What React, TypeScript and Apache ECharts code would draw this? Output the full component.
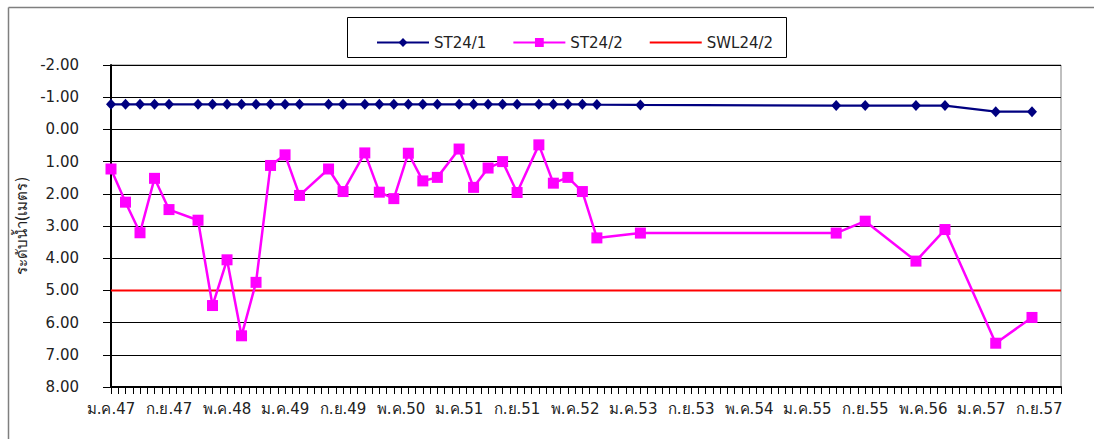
import React, { useEffect, useRef } from "react";
import * as echarts from "echarts";

const thaiMonths = ["ม.ค.", "ก.พ.", "มี.ค.", "เม.ย.", "พ.ค.", "มิ.ย.", "ก.ค.", "ส.ค.", "ก.ย.", "ต.ค.", "พ.ย.", "ธ.ค."];
const firstYear = 2004;
const lastYear = 2014;

const sampleDates = [
  "2004-01", "2004-03", "2004-05", "2004-07", "2004-09", "2005-01", "2005-03", "2005-05",
  "2005-07", "2005-09", "2005-11", "2006-01", "2006-03", "2006-07", "2006-09", "2006-12",
  "2007-02", "2007-04", "2007-06", "2007-08", "2007-10", "2008-01", "2008-03", "2008-05",
  "2008-07", "2008-09", "2008-12", "2009-02", "2009-04", "2009-06", "2009-08", "2010-02",
  "2012-05", "2012-09", "2013-04", "2013-08", "2014-03", "2014-08",
];

const st241 = [
  -0.78, -0.78, -0.78, -0.78, -0.78, -0.78, -0.78, -0.78,
  -0.78, -0.78, -0.78, -0.78, -0.78, -0.78, -0.78, -0.78,
  -0.78, -0.78, -0.78, -0.78, -0.78, -0.78, -0.78, -0.78,
  -0.78, -0.78, -0.78, -0.78, -0.78, -0.78, -0.77, -0.76,
  -0.74, -0.74, -0.74, -0.74, -0.55, -0.55,
];

const st242 = [
  1.23, 2.26, 3.21, 1.52, 2.49, 2.82, 5.47, 4.05,
  6.41, 4.75, 1.12, 0.79, 2.05, 1.23, 1.93, 0.73,
  1.95, 2.15, 0.74, 1.6, 1.49, 0.61, 1.8, 1.2,
  1.0, 1.96, 0.48, 1.67, 1.49, 1.93, 3.37, 3.22,
  3.22, 2.85, 4.09, 3.11, 6.64, 5.84,
];

const swlLevel = 5.0;

const yMin = -2;
const yMax = 8;
const yStep = 1;

const FONT = "Tahoma, 'DejaVu Sans', 'Noto Sans', sans-serif";

function buildMonths() {
  const keys: string[] = [];
  const labels: string[] = [];
  for (let y = firstYear; y <= lastYear; y++) {
    for (let m = 0; m < 12; m++) {
      keys.push(`${y}-${String(m + 1).padStart(2, "0")}`);
      labels.push(`${thaiMonths[m]}${(y + 543) % 100}`);
    }
  }
  return { keys, labels };
}

export default function App() {
  const ref = useRef<HTMLDivElement>(null);

  useEffect(() => {
    document.body.style.margin = "0";
    if (!ref.current) return;
    const chart = echarts.init(ref.current, null, { renderer: "svg" });
    const { keys, labels } = buildMonths();
    const toSeries = (vals: number[]) => {
      const arr: (number | null)[] = keys.map(() => null);
      sampleDates.forEach((d, i) => {
        const idx = keys.indexOf(d);
        if (idx >= 0) arr[idx] = vals[i];
      });
      return arr;
    };
    const swlData: (number | null)[] = keys.map(() => swlLevel);

    const frame = { stroke: "#7f7f7f", lineWidth: 1.5 };
    const box = { stroke: "#000", lineWidth: 1 };

    chart.setOption({
      animation: false,
      backgroundColor: "#ffffff",
      textStyle: { fontFamily: FONT },
      graphic: [
        { type: "line", shape: { x1: 8.5, y1: 7.5, x2: 1094, y2: 7.5 }, style: frame, silent: true, z: -1 },
        { type: "line", shape: { x1: 8.5, y1: 7.5, x2: 8.5, y2: 439 }, style: frame, silent: true, z: -1 },
        { type: "line", shape: { x1: 347.5, y1: 17.5, x2: 786.5, y2: 17.5 }, style: box, silent: true, z: -1 },
        { type: "line", shape: { x1: 347.5, y1: 57.5, x2: 786.5, y2: 57.5 }, style: box, silent: true, z: -1 },
        { type: "line", shape: { x1: 347.5, y1: 17.5, x2: 347.5, y2: 57.5 }, style: box, silent: true, z: -1 },
        { type: "line", shape: { x1: 786.5, y1: 17.5, x2: 786.5, y2: 57.5 }, style: box, silent: true, z: -1 },
      ],
      legend: {
        left: 371,
        top: 30,
        itemWidth: 52,
        itemHeight: 11,
        itemGap: 26,
        textStyle: { fontSize: 15, color: "#222", fontFamily: FONT },
        data: [
          { name: "ST24/1" },
          { name: "ST24/2" },
          { name: "SWL24/2", itemStyle: { opacity: 0 } },
        ],
      },
      grid: {
        left: 111,
        top: 65,
        right: 33,
        bottom: 52,
        show: true,
        borderColor: "#808080",
        borderWidth: 1,
        backgroundColor: "transparent",
        z: 0,
      },
      xAxis: {
        type: "category",
        data: labels,
        boundaryGap: false,
        z: 5,
        axisLine: { show: true, onZero: false, lineStyle: { color: "#000", width: 2 } },
        axisTick: { show: true, interval: 0, inside: false, length: 7, lineStyle: { color: "#000", width: 1 } },
        axisLabel: {
          interval: 7,
          margin: 14,
          fontSize: 15,
          color: "#222",
          fontFamily: FONT,
        },
        splitLine: { show: false },
      },
      yAxis: {
        type: "value",
        inverse: true,
        min: yMin,
        max: yMax,
        interval: yStep,
        z: 5,
        name: "ระดับน้ำ(เมตร)",
        nameLocation: "middle",
        nameGap: 78,
        nameTextStyle: { fontSize: 15, color: "#222", fontFamily: FONT },
        axisLine: { show: true, onZero: false, lineStyle: { color: "#000", width: 2 } },
        axisTick: { show: true, inside: false, length: 8, lineStyle: { color: "#000", width: 1 } },
        axisLabel: {
          margin: 32,
          fontSize: 15,
          color: "#222",
          fontFamily: FONT,
          formatter: (v: number) => v.toFixed(2),
        },
        splitLine: { show: true, lineStyle: { color: "#000", width: 1 } },
      },
      series: [
        {
          name: "ST24/1",
          type: "line",
          data: toSeries(st241),
          connectNulls: true,
          showAllSymbol: true,
          symbol: "diamond",
          symbolSize: [10, 11],
          itemStyle: { color: "#000080" },
          lineStyle: { color: "#000080", width: 2.2 },
          z: 12,
        },
        {
          name: "ST24/2",
          type: "line",
          data: toSeries(st242),
          connectNulls: true,
          showAllSymbol: true,
          symbol: "rect",
          symbolSize: 11,
          itemStyle: { color: "#ff00ff" },
          lineStyle: { color: "#ff00ff", width: 2.5 },
          z: 12,
        },
        {
          name: "SWL24/2",
          type: "line",
          data: swlData,
          symbol: "none",
          itemStyle: { color: "#ff0000" },
          lineStyle: { color: "#ff0000", width: 2 },
          z: 10,
        },
      ],
    });
    return () => chart.dispose();
  }, []);

  return <div ref={ref} style={{ width: 1094, height: 439 }} />;
}
